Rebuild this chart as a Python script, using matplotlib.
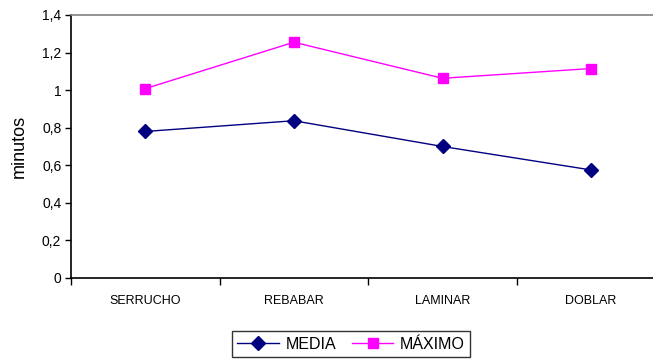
import matplotlib
matplotlib.use("Agg")
from matplotlib import pyplot as plt
from matplotlib.ticker import FuncFormatter

plt.rcParams['font.family'] = ['Liberation Sans', 'DejaVu Sans']

# tiempos por operación
categories = ['SERRUCHO', 'REBABAR', 'LAMINAR', 'DOBLAR']
media = [0.78, 0.837, 0.70, 0.575]
maximo = [1.008, 1.255, 1.063, 1.115]

fig = plt.figure(figsize=(6.53, 3.60), dpi=100)
ax = fig.add_axes([0.1087, 0.2278, 0.9104, 0.7306])

x = list(range(len(categories)))
l1, = ax.plot(x, media, color='#000080', lw=1.0, marker='D', ms=7,
              markerfacecolor='#000080', markeredgecolor='#000080', label='MEDIA')
l2, = ax.plot(x, maximo, color='#FF00FF', lw=1.0, marker='s', ms=7.5,
              markerfacecolor='#FF00FF', markeredgecolor='#FF00FF', label='MÁXIMO')

ax.set_xlim(-0.5, len(categories) - 0.5)
ax.set_ylim(0, 1.4)
ax.set_yticks([0, 0.2, 0.4, 0.6, 0.8, 1.0, 1.2, 1.4])
ax.yaxis.set_major_formatter(FuncFormatter(lambda v, p: f'{v:g}'.replace('.', ',')))

# etiquetas centradas, marcas entre categorías
ax.set_xticks([i - 0.5 for i in x])
ax.set_xticklabels([])
ax.set_xticks(x, minor=True)
ax.set_xticklabels(categories, minor=True, fontsize=9)
ax.tick_params(axis='x', which='minor', length=0, pad=12)
ax.tick_params(axis='x', which='major', length=5, width=1, direction='out', color='black')
ax.tick_params(axis='y', length=4, width=1, labelsize=10, pad=3)

ax.set_ylabel('minutos', fontsize=13, labelpad=10)

for s in ['left', 'bottom']:
    ax.spines[s].set_color('black')
    ax.spines[s].set_linewidth(1.2)
ax.spines['top'].set_color('#808080')
ax.spines['top'].set_linewidth(1.2)
ax.spines['right'].set_visible(False)

leg = fig.legend(handles=[l1, l2], loc='center', bbox_to_anchor=(0.5375, 0.044),
                 ncol=2, fontsize=11.5, frameon=True, fancybox=False,
                 edgecolor='black', handlelength=2.6, handletextpad=0.4,
                 columnspacing=1.0, borderpad=0.35, borderaxespad=0)
leg.get_frame().set_linewidth(1.0)

fig.savefig('out.png', dpi=100)
